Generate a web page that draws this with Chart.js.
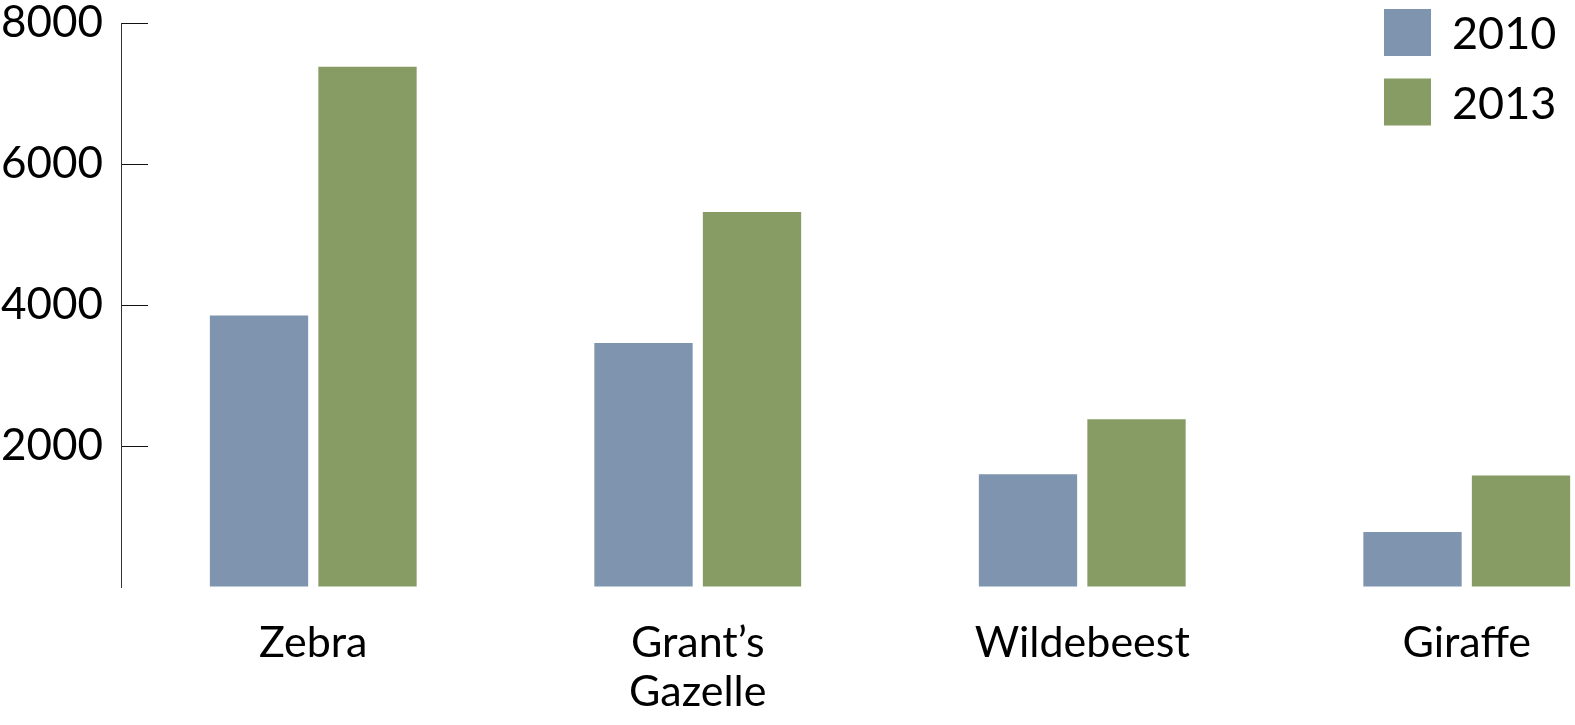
<!DOCTYPE html>
<html>
<head>
<meta charset="utf-8">
<script src="https://cdn.jsdelivr.net/npm/chart.js@4"></script>
<style>
  html, body { margin: 0; padding: 0; background: #fff; overflow: hidden; }
  #wrap { position: relative; width: 1659px; height: 725px; }
</style>
</head>
<body>
<div id="wrap"><canvas id="chart-area"></canvas></div>
<script>
// data
const categories = ['Zebra', ['Grant\u2019s', 'Gazelle'], 'Wildebeest', 'Giraffe'];
const years = ['2010', '2013'];
const values2010 = [3850, 3460, 1600, 780];
const values2013 = [7380, 5320, 2380, 1580];
const yMax = 8000;
const yStep = 2000;

const colors = ['#7f94ae', '#879c64'];

// legend stacked in the top right corner, drawn on the canvas
const cornerLegend = {
  id: 'cornerLegend',
  afterDraw(chart) {
    const ctx = chart.ctx;
    ctx.save();
    chart.data.datasets.forEach((ds, i) => {
      const top = 9 + i * 69.5;
      ctx.fillStyle = ds.backgroundColor;
      ctx.fillRect(1384, top, 47, 47);
      ctx.fillStyle = '#000';
      ctx.font = '45px Lato';
      ctx.textBaseline = 'alphabetic';
      ctx.textAlign = 'left';
      ctx.fillText(ds.label, 1452, top + 23.5 + 16.5);
    });
    ctx.restore();
  },
};

const config = {
  type: 'bar',
  data: {
    labels: categories,
    datasets: [
      { label: years[0], data: values2010, backgroundColor: colors[0] },
      { label: years[1], data: values2013, backgroundColor: colors[1] },
    ],
  },
  options: {
    responsive: true,
    maintainAspectRatio: false,
    animation: false,
    events: [],
    categoryPercentage: 0.5644,
    barPercentage: 0.906,
    layout: { padding: { top: 23, left: 0, right: 0, bottom: 0 } },
    plugins: {
      legend: { display: false },
      tooltip: { enabled: false },
    },
    scales: {
      x: {
        grid: { display: false, drawTicks: false },
        border: { display: false },
        ticks: {
          color: '#000',
          padding: 32,
          maxRotation: 0,
          autoSkip: false,
          font: { family: 'Lato', size: 43, lineHeight: 1.14 },
        },
        afterFit(scale) { scale.height = 138; },
      },
      y: {
        min: 0,
        max: yMax,
        border: { display: true, color: '#333', width: 1 },
        grid: {
          drawOnChartArea: false,
          drawTicks: true,
          tickLength: -27,
          lineWidth: 1,
          color: (c) => (c.tick && c.tick.value === 0 ? 'rgba(0,0,0,0)' : '#111'),
        },
        ticks: {
          stepSize: yStep,
          color: '#000',
          padding: 45,
          font: { family: 'Lato', size: 44, lineHeight: 1 },
          callback: (v) => (v === 0 ? '' : String(v)),
        },
        afterFit(scale) {
          scale.width = 121;
          // tick padding is only there to push labels left of the inner ticks
          scale.paddingTop = 0;
          scale.paddingBottom = 0;
        },
      },
    },
  },
  plugins: [cornerLegend],
};

window.barChart = new Chart(document.getElementById('chart-area').getContext('2d'), config);
</script>
</body>
</html>
